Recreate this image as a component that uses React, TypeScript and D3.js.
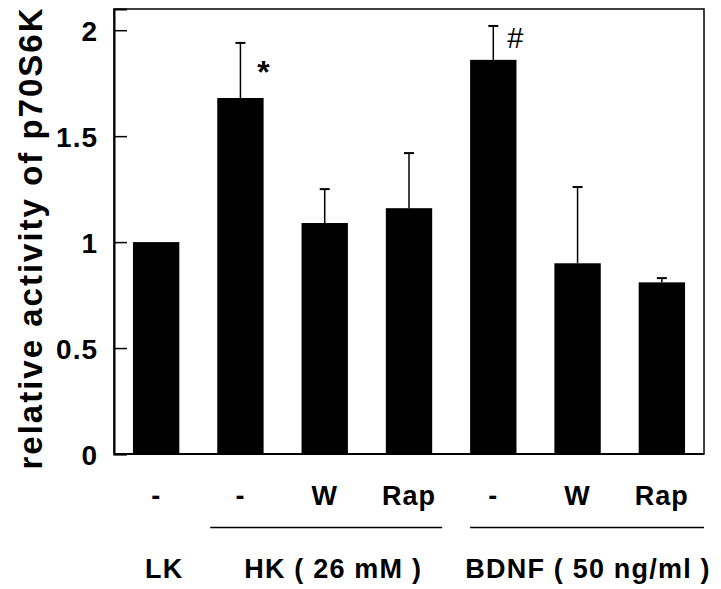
import * as d3 from "d3";
import { useRef, useEffect } from "react";

// conditions, left to right
const conditions = ["LK", "HK", "HK+W", "HK+Rap", "BDNF", "BDNF+W", "BDNF+Rap"];
const tickLabels = ["-", "-", "W", "Rap", "-", "W", "Rap"];
const means = [1.0, 1.68, 1.09, 1.16, 1.86, 0.9, 0.81];
const errors = [0, 0.26, 0.16, 0.26, 0.16, 0.36, 0.02];
const marks = ["", "*", "", "", "#", "", ""];
const groups = [
  { label: "LK", from: 0, to: 0, line: false },
  { label: "HK ( 26 mM )", from: 1, to: 3, line: true },
  { label: "BDNF ( 50 ng/ml )", from: 4, to: 6, line: true },
];
const yTicks = [0, 0.5, 1, 1.5, 2];

const W = 721;
const H = 589;
const margin = { top: 9, right: 17, bottom: 135, left: 114 };
const FONT = "'Liberation Sans', Arial, Helvetica, sans-serif";

const App = () => {
  const svgRef = useRef(null);

  useEffect(() => {
    const width = W - margin.left - margin.right;
    const height = H - margin.top - margin.bottom;

    const x = d3
      .scaleBand()
      .domain(conditions)
      .range([0, width])
      .paddingInner(0.45)
      .paddingOuter(0.225);
    const y = d3.scaleLinear().domain([0, 2.1]).range([height, 0]);

    const svgEl = d3.select(svgRef.current);
    svgEl.selectAll("*").remove();

    const svg = svgEl
      .append("g")
      .attr("transform", `translate(${margin.left},${margin.top})`);

    // bars
    svg
      .selectAll(".bar")
      .data(conditions)
      .enter()
      .append("rect")
      .attr("x", (d) => x(d))
      .attr("y", (d, i) => y(means[i]))
      .attr("width", x.bandwidth())
      .attr("height", (d, i) => height - y(means[i]))
      .attr("fill", "black");

    // error bars (upper only)
    const top = (d) => {
      const i = conditions.indexOf(d);
      return y(means[i] + errors[i]);
    };
    const cx = (d) => x(d) + x.bandwidth() / 2;
    const eb = svg
      .selectAll(".err")
      .data(conditions.filter((d, i) => errors[i] > 0))
      .enter()
      .append("g");
    eb.append("line")
      .attr("x1", cx)
      .attr("x2", cx)
      .attr("y1", (d) => y(means[conditions.indexOf(d)]))
      .attr("y2", top)
      .attr("stroke", "black")
      .attr("stroke-width", 1.5);
    eb.append("line")
      .attr("x1", (d) => cx(d) - 5)
      .attr("x2", (d) => cx(d) + 5)
      .attr("y1", top)
      .attr("y2", top)
      .attr("stroke", "black")
      .attr("stroke-width", 2);

    // significance marks
    const isStar = (d) => marks[conditions.indexOf(d)] === "*";
    svg
      .selectAll(".mark")
      .data(conditions.filter((d, i) => marks[i]))
      .enter()
      .append("text")
      .attr("x", (d) => cx(d) + (isStar(d) ? 23 : 22))
      .attr("y", (d) => top(d) + (isStar(d) ? 40 : 22))
      .attr("font-family", FONT)
      .attr("font-weight", (d) => (isStar(d) ? "bold" : "normal"))
      .attr("font-size", (d) => (isStar(d) ? 32 : 29))
      .attr("text-anchor", "middle")
      .text((d) => marks[conditions.indexOf(d)]);

    // frame
    svg
      .append("rect")
      .attr("x", 0)
      .attr("y", 0)
      .attr("width", width)
      .attr("height", height)
      .attr("fill", "none")
      .attr("stroke", "black")
      .attr("stroke-width", 1.5);

    // y axis, ticks inward
    const yAxisGroup = svg
      .append("g")
      .call(d3.axisLeft(y).tickValues(yTicks).tickSize(-13).tickPadding(16).tickFormat(d3.format("")));
    yAxisGroup.select(".domain").attr("stroke-width", 2);
    yAxisGroup.selectAll("line").attr("stroke-width", 1.5);
    yAxisGroup
      .selectAll("text")
      .attr("font-family", FONT)
      .attr("font-weight", "bold")
      .attr("font-size", 28)
      .attr("letter-spacing", 1)
      .attr("dy", "0.36em");

    // baseline
    svg
      .append("line")
      .attr("x1", 0)
      .attr("x2", width)
      .attr("y1", height)
      .attr("y2", height)
      .attr("stroke", "black")
      .attr("stroke-width", 2);

    // x labels
    svg
      .selectAll(".xl")
      .data(conditions)
      .enter()
      .append("text")
      .attr("x", (d) => cx(d))
      .attr("y", height + 51)
      .attr("text-anchor", "middle")
      .attr("font-family", FONT)
      .attr("font-weight", "bold")
      .attr("font-size", 27)
      .attr("letter-spacing", 1)
      .text((d, i) => tickLabels[i]);

    // group lines + labels
    groups.forEach((g) => {
      const last = g.to === conditions.length - 1;
      const x0 = x(conditions[g.from]) - (last ? 0 : 7);
      const x1 = last ? width : x(conditions[g.to]) + x.bandwidth() + 10;
      if (g.line) {
        svg
          .append("line")
          .attr("x1", x0)
          .attr("x2", x1)
          .attr("y1", height + 73.5)
          .attr("y2", height + 73.5)
          .attr("stroke", "black")
          .attr("stroke-width", 1.5);
      }
      svg
        .append("text")
        .attr("x", g.line ? (x0 + x1) / 2 + (last ? 1 : 7) : cx(conditions[g.from]) + 8)
        .attr("y", height + 124)
        .attr("text-anchor", "middle")
        .attr("font-family", FONT)
        .attr("font-weight", "bold")
        .attr("font-size", 27)
        .attr("letter-spacing", 1.2)
        .text(g.label);
    });

    // y title
    svgEl
      .append("text")
      .attr("transform", `translate(42,238) rotate(-90)`)
      .attr("text-anchor", "middle")
      .attr("font-family", FONT)
      .attr("font-weight", "bold")
      .attr("font-size", 33)
      .attr("letter-spacing", 2)
      .text("relative activity of p70S6K");
  }, []);

  return (
    <svg
      ref={svgRef}
      width={W}
      height={H}
      style={{ position: "absolute", left: 0, top: 0, background: "white" }}
    />
  );
};

export default App;
